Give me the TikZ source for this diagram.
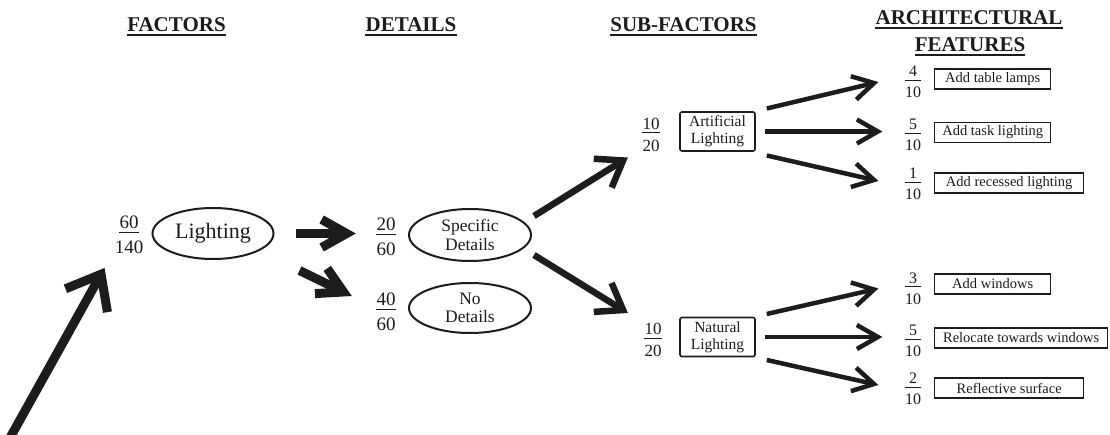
\documentclass[tikz,border=0pt]{standalone}
\usepackage{fontspec}
\setmainfont{Liberation Serif}
\usetikzlibrary{shapes.geometric,arrows.meta,calc}

% stacked fraction: numerator, thin bar, denominator
\newcommand\fr[2]{\vbox{\offinterlineskip\halign{\hfil##\hfil\cr
  #1\cr\noalign{\kern.17em}
  \vrule width1.05em height.055em depth0pt\cr\noalign{\kern.4em}
  #2\cr}}}

\definecolor{ink}{HTML}{1C1C1C}

\tikzset{
  hdr/.style={inner sep=0pt, anchor=base, text=ink,
    font=\fontsize{21}{24}\selectfont\bfseries},
  uline/.style={draw=ink, line width=2pt},
  fracL/.style={inner sep=0pt, text=ink, font=\fontsize{19}{22}\selectfont},
  fracM/.style={inner sep=0pt, text=ink, font=\fontsize{17}{20}\selectfont},
  fracS/.style={inner sep=0pt, text=ink, font=\fontsize{16}{19}\selectfont},
  ellnode/.style={ellipse, draw=ink, line width=2pt, inner sep=0pt,
    minimum width=122pt, minimum height=52pt, align=center, text=ink,
    font=\fontsize{17.5}{18.5}\selectfont},
  subbox/.style={draw=ink, line width=1.6pt, rounded corners=2pt,
    minimum width=75pt, minimum height=39pt, inner sep=0pt, align=center,
    text=ink, font=\fontsize{15.5}{17}\selectfont},
  featbox/.style={draw=ink, line width=1.4pt, minimum height=20pt,
    inner sep=0pt, anchor=west, text=ink, font=\fontsize{14.5}{16}\selectfont},
  hugearrow/.style={draw=ink, line width=9pt,
    -{Straight Barb[length=30pt,width=48pt]}},
  heavyarrow/.style={draw=ink, line width=9pt,
    -{Straight Barb[length=25pt,width=28pt]}},
  medarrow/.style={draw=ink, line width=6.5pt,
    -{Straight Barb[length=24pt,width=34pt]}},
  thinarrow/.style={draw=ink, line width=4.5pt,
    -{Straight Barb[length=21pt,width=24pt]}},
}

\begin{document}
\begin{tikzpicture}[x=1pt,y=-1pt]
\useasboundingbox (0,0) rectangle (1110,435);
\fill[white] (0,0) rectangle (1110,435);

% column headings
\node[hdr] (h1) at (176.5,32) {FACTORS};
\node[hdr] (h2) at (411,32) {DETAILS};
\node[hdr] (h3) at (683.5,32) {SUB-FACTORS};
\node[hdr] (h4) at (969,25) {ARCHITECTURAL};
\node[hdr] (h5) at (970,52) {FEATURES};
\foreach \h in {h1,h2,h3,h4,h5}
  \draw[uline] ([yshift=-3pt]\h.base west) -- ([yshift=-3pt]\h.base east);

% factor
\node[fracL] (f1) at (129,235) {\fr{60}{140}};
\node[ellnode, minimum width=121pt, minimum height=51pt,
  font=\fontsize{22}{24}\selectfont] (light) at (213,233.5) {Lighting};

% details
\node[fracL] (f2) at (386,237) {\fr{20}{60}};
\node[ellnode] (spec) at (470,235) {Specific\\Details};
\node[fracL] (f3) at (386,312) {\fr{40}{60}};
\node[ellnode, minimum height=50pt] (nod) at (470,308) {No\\Details};

% sub-factors
\node[fracM] (f4) at (651,134.5) {\fr{10}{20}};
\node[subbox] (art) at (717.5,131.5) {Artificial\\Lighting};
\node[fracM] (f5) at (653,340) {\fr{10}{20}};
\node[subbox] (nat) at (717.5,337) {Natural\\Lighting};

% architectural features
\node[fracS] (r1) at (913,82) {\fr{4}{10}};
\node[featbox, minimum width=116pt] (b1) at (934,79) {Add table lamps};
\node[fracS] (r2) at (913,135) {\fr{5}{10}};
\node[featbox, minimum width=116pt] (b2) at (934,132.5) {Add task lighting};
\node[fracS] (r3) at (913,184) {\fr{1}{10}};
\node[featbox, minimum width=149pt] (b3) at (934,183) {Add recessed lighting};
\node[fracS] (r4) at (913,288.5) {\fr{3}{10}};
\node[featbox, minimum width=116pt] (b4) at (934,284) {Add windows};
\node[fracS] (r5) at (913,341) {\fr{5}{10}};
\node[featbox, minimum width=173pt] (b5) at (934,338) {Relocate towards windows};
\node[fracS] (r6) at (913,389) {\fr{2}{10}};
\node[featbox, minimum width=149pt] (b6) at (934,388) {Reflective surface};

% connectors
\coordinate (src) at (6,445);
\draw[hugearrow] (src) -- ($(f1.south west)+(-10,14)$);

\draw[heavyarrow] ($(light.east)+(21,0)$) -- ($(f2.west |- light.east)+(-20,0)$);
\draw[heavyarrow] ($(light.east)+(25,37)$) -- ($(f3.west)+(-24,-16)$);

\draw[medarrow] ($(spec.east)+(2,-19)$) -- ($(f4.west)+(-14,23)$);
\draw[medarrow] ($(spec.east)+(2,20)$) -- ($(f5.west)+(-16,-27)$);

\draw[thinarrow] ($(art.east)+(11,-23)$) -- ($(r1.west)+(-26,0)$);
\draw[thinarrow] ($(art.east)+(9,0)$) -- ($(r2.west |- art.east)+(-22,0)$);
\draw[thinarrow] ($(art.east)+(11,24)$) -- ($(r3.west)+(-26,-3)$);

\draw[thinarrow] ($(nat.east)+(11,-23)$) -- ($(r4.west)+(-26,0)$);
\draw[thinarrow] ($(nat.east)+(9,0)$) -- ($(r5.west |- nat.east)+(-22,0)$);
\draw[thinarrow] ($(nat.east)+(11,23)$) -- ($(r6.west)+(-26,-4)$);
\end{tikzpicture}
\end{document}
